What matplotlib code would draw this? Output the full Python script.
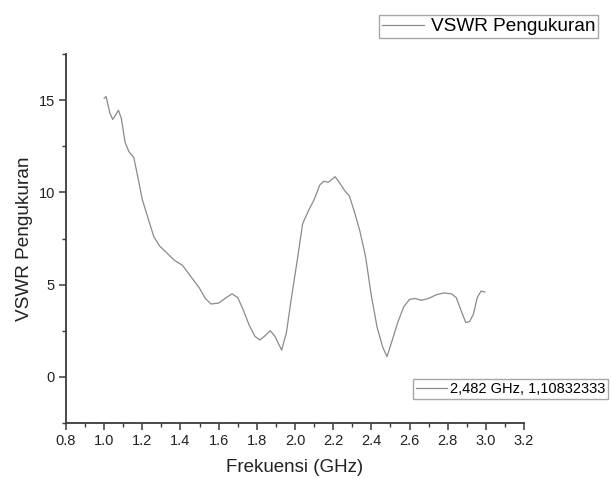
import matplotlib
matplotlib.use("Agg")
import matplotlib.pyplot as plt
from matplotlib.ticker import MultipleLocator
from matplotlib.lines import Line2D

plt.rcParams['font.family'] = ['Liberation Sans', 'DejaVu Sans']

freq = [1.00, 1.01, 1.03, 1.045, 1.06, 1.075, 1.09, 1.11, 1.13, 1.155, 1.175, 1.20,
        1.23, 1.26, 1.29, 1.33, 1.37, 1.41, 1.45, 1.50, 1.53, 1.56, 1.60, 1.64,
        1.67, 1.70, 1.73, 1.76, 1.79, 1.815, 1.84, 1.87, 1.895, 1.93, 1.955, 1.98,
        2.01, 2.04, 2.07, 2.10, 2.13, 2.15, 2.175, 2.21, 2.235, 2.26, 2.285, 2.31,
        2.34, 2.37, 2.40, 2.43, 2.46, 2.482, 2.51, 2.54, 2.57, 2.60, 2.63, 2.66,
        2.70, 2.74, 2.78, 2.82, 2.845, 2.87, 2.895, 2.915, 2.935, 2.955, 2.975, 2.995]
vswr = [15.1, 15.2, 14.3, 13.95, 14.2, 14.45, 14.0, 12.7, 12.2, 11.9, 10.9, 9.6,
        8.6, 7.6, 7.1, 6.7, 6.3, 6.05, 5.5, 4.8, 4.25, 3.95, 4.0, 4.3,
        4.5, 4.3, 3.6, 2.8, 2.2, 2.0, 2.2, 2.5, 2.2, 1.45, 2.4, 4.2,
        6.2, 8.3, 9.0, 9.6, 10.4, 10.6, 10.55, 10.85, 10.5, 10.1, 9.8, 9.0,
        7.9, 6.5, 4.4, 2.7, 1.6, 1.1, 2.0, 3.0, 3.8, 4.2, 4.25, 4.15,
        4.25, 4.45, 4.55, 4.5, 4.3, 3.6, 2.95, 3.0, 3.4, 4.3, 4.65, 4.6]

series_label = "VSWR Pengukuran"
marker_label = "2,482 GHz, 1,10832333"
x_ticks = [0.8, 1.0, 1.2, 1.4, 1.6, 1.8, 2.0, 2.2, 2.4, 2.6, 2.8, 3.0, 3.2]
y_ticks = [0, 5, 10, 15]

W, H = 611, 479
fig = plt.figure(figsize=(W / 100, H / 100), dpi=100)
ax = fig.add_axes([66 / W, 1 - 423 / H, (524 - 66) / W, (423 - 54) / H])

line_color = '#8a8a8a'
line, = ax.plot(freq, vswr, color=line_color, lw=0.9)

ax.set_xlim(0.8, 3.2)
ax.set_ylim(-2.5, 17.5)
ax.set_xticks(x_ticks)
ax.set_xticklabels([f"{t:.1f}" for t in x_ticks])
ax.set_yticks(y_ticks)
ax.xaxis.set_minor_locator(MultipleLocator(0.1))
ax.yaxis.set_minor_locator(MultipleLocator(2.5))

spine_color = '#3a3a3a'
for s in ['top', 'right']:
    ax.spines[s].set_visible(False)
for s in ['left', 'bottom']:
    ax.spines[s].set_color(spine_color)
    ax.spines[s].set_linewidth(1.3)

ax.tick_params(which='major', direction='out', length=5, width=1.1, color=spine_color,
               labelsize=10.5, labelcolor='#222222', pad=3)
ax.tick_params(which='minor', direction='out', length=3, width=1.0, color=spine_color)

ax.set_xlabel("Frekuensi (GHz)", fontsize=13.5, color='#222222', labelpad=8)
ax.set_ylabel("VSWR Pengukuran", fontsize=13.7, color='#222222', labelpad=4)

leg1 = fig.legend(handles=[line], labels=[series_label], loc='upper right',
                  bbox_to_anchor=(598 / W, 1 - 15 / H), fontsize=13.7,
                  fancybox=False, edgecolor='#a8a8a8', framealpha=1,
                  handlelength=2.2, handletextpad=0.35, borderpad=0.15,
                  borderaxespad=0)
leg1.get_frame().set_linewidth(1.0)

marker_handle = Line2D([], [], color=line_color, lw=0.9)
leg2 = fig.legend(handles=[marker_handle], labels=[marker_label], loc='upper left',
                  bbox_to_anchor=(413 / W, 1 - 379 / H), fontsize=10.5,
                  fancybox=False, edgecolor='#a8a8a8', framealpha=1,
                  handlelength=2.1, handletextpad=0.25, borderpad=0.2,
                  borderaxespad=0)
leg2.get_frame().set_linewidth(1.0)

fig.savefig("out.png", dpi=100)
